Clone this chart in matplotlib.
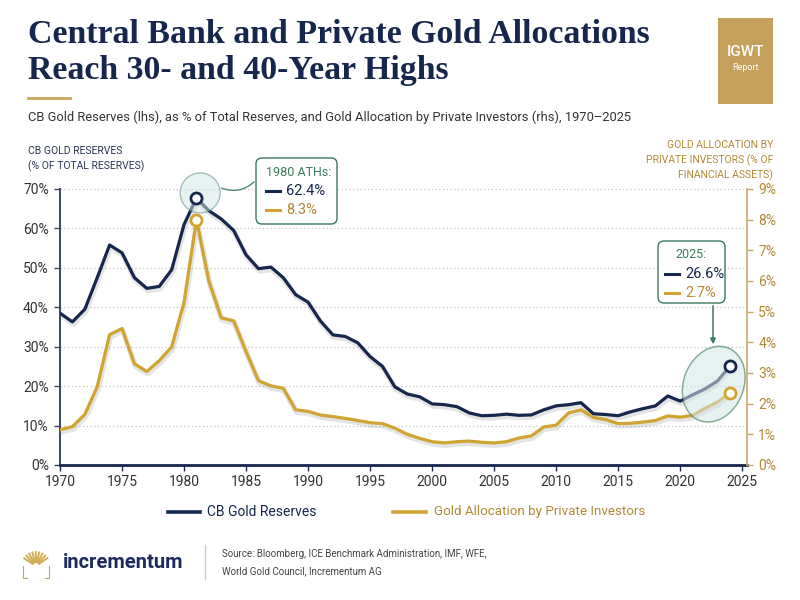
import math
import matplotlib
matplotlib.use('Agg')
import matplotlib.pyplot as plt
import matplotlib.patheffects as pe
from matplotlib import font_manager
from matplotlib.lines import Line2D
from matplotlib.patches import Circle, Ellipse, FancyBboxPatch, FancyArrowPatch, Rectangle
from matplotlib.transforms import Affine2D, ScaledTranslation

# ---- data ----
years = list(range(1970, 2025))
cb_reserves = [38.5, 36.3, 39.5, 47.5, 55.8, 53.8, 47.5, 44.8, 45.3, 49.5,
               61.0, 67.7, 64.5, 62.4, 59.5, 53.3, 49.8, 50.2, 47.5, 43.2,
               41.3, 36.5, 33.0, 32.6, 31.0, 27.5, 25.0, 19.8, 18.0, 17.3,
               15.5, 15.3, 14.8, 13.2, 12.5, 12.6, 12.9, 12.6, 12.7, 14.0,
               15.0, 15.3, 15.8, 13.0, 12.8, 12.5, 13.5, 14.3, 15.0, 17.5,
               16.2, 17.8, 19.3, 21.3, 25.0]
private_alloc = [1.15, 1.25, 1.65, 2.55, 4.25, 4.45, 3.3, 3.05, 3.4, 3.85,
                 5.3, 8.0, 6.0, 4.8, 4.7, 3.7, 2.75, 2.58, 2.5, 1.8,
                 1.75, 1.63, 1.58, 1.52, 1.45, 1.38, 1.35, 1.2, 1.0, 0.87,
                 0.76, 0.72, 0.76, 0.78, 0.74, 0.72, 0.76, 0.88, 0.95, 1.24,
                 1.3, 1.7, 1.8, 1.55, 1.48, 1.35, 1.36, 1.4, 1.45, 1.6,
                 1.56, 1.62, 1.85, 2.05, 2.35]
x_ticks = [1970, 1975, 1980, 1985, 1990, 1995, 2000, 2005, 2010, 2015, 2020, 2025]
left_ticks = [0, 10, 20, 30, 40, 50, 60, 70]
right_ticks = [0, 1, 2, 3, 4, 5, 6, 7, 8, 9]
peak_year = 1981
ath_labels = ['62.4%', '8.3%']
latest_labels = ['26.6%', '2.7%']

NAVY = '#17264d'
GOLD = '#d1a330'
GOLD_TXT = '#b08a35'
GREEN = '#3b7a5c'
GREY = '#333333'

names = {f.name for f in font_manager.fontManager.ttflist}
NARROW = 'Liberation Sans Narrow' if 'Liberation Sans Narrow' in names else 'Roboto'
SANS = 'Roboto' if 'Roboto' in names else 'DejaVu Sans'
SERIF = 'Liberation Serif'
plt.rcParams['font.family'] = SANS

fig = plt.figure(figsize=(8, 6), dpi=100)
fig.patch.set_facecolor('white')
# pixel coords, origin top-left
pxt = Affine2D().scale(1 / 800, -1 / 600).translate(0, 1) + fig.transFigure

ax = fig.add_axes([0.075, 0.225, 0.859, 0.46])
ax2 = ax.twinx()
ax.set_xlim(1970, 2025.4)
ax.set_ylim(0, 70)
ax2.set_ylim(0, 9)

shadow = [pe.SimpleLineShadow(offset=(0.6, -1.6), shadow_color='#6a6a6a', alpha=0.18, linewidth=4),
          pe.Normal()]
ax.plot(years, cb_reserves, color=NAVY, lw=2.3, solid_capstyle='round',
        solid_joinstyle='round', path_effects=shadow, zorder=3)
ax2.plot(years, private_alloc, color=GOLD, lw=2.3, solid_capstyle='round',
         solid_joinstyle='round', path_effects=shadow, zorder=3)

# grid + spines
ax.set_yticks(left_ticks)
ax.set_yticklabels([f'{v}%' for v in left_ticks])
ax.set_xticks(x_ticks)
ax2.set_yticks(right_ticks)
ax2.set_yticklabels([f'{v}%' for v in right_ticks])
ax.grid(axis='y', linestyle=(0, (1, 2)), color='#c4c4c4', lw=0.9)
ax.set_axisbelow(True)
for a in (ax, ax2):
    a.spines['top'].set_visible(False)
ax.spines['right'].set_visible(False)
ax2.spines['left'].set_visible(False)
ax2.spines['bottom'].set_visible(False)
ax.spines['left'].set_color('#3a4560')
ax.spines['left'].set_linewidth(1.4)
ax.spines['bottom'].set_color(NAVY)
ax.spines['bottom'].set_linewidth(2)
ax2.spines['right'].set_color('#c9a86c')
ax2.spines['right'].set_linewidth(1.2)
ax.tick_params(axis='y', length=4, width=1, color='#3a4560', labelsize=10, labelcolor=GREY, pad=4)
ax.tick_params(axis='x', length=4, width=1, color=NAVY, labelsize=10, labelcolor=GREY, pad=3)
ax2.tick_params(axis='y', length=4, width=1, color='#c9a86c', labelsize=10, labelcolor=GOLD_TXT, pad=4)

# highlight shapes anchored in data coords, sized in inches
circ = Circle((0, 0), 0.2, transform=fig.dpi_scale_trans + ScaledTranslation(1981.3, 69, ax.transData),
              facecolor='#d3e6e6', edgecolor='#4f8a7a', lw=1, alpha=0.5, zorder=5, clip_on=False)
ax2.add_patch(circ)
ell = Ellipse((0, 0), 0.6, 0.78, angle=-22,
              transform=fig.dpi_scale_trans + ScaledTranslation(2022.7, 20.5, ax.transData),
              facecolor='#d3e6e6', edgecolor='#2f6f50', lw=1.1, alpha=0.55, zorder=5, clip_on=False)
ax2.add_patch(ell)

# markers (all on the top axes so they sit above the highlights)
i_peak = years.index(peak_year)
mk = dict(marker='o', ms=8, mfc='white', mew=2, zorder=7, clip_on=False)
ax2.plot(years[i_peak], cb_reserves[i_peak], mec=NAVY, transform=ax.transData, **mk)
ax2.plot(years[i_peak], private_alloc[i_peak], mec=GOLD, **mk)
ax2.plot(years[-1], cb_reserves[-1], mec=NAVY, transform=ax.transData, **mk)
ax2.plot(years[-1], private_alloc[-1], mec=GOLD, **mk)

# annotation boxes
def note_box(x0, y0, w, h, title, vals, title_center=False):
    fig.add_artist(FancyBboxPatch((x0, y0), w, h, boxstyle='round,pad=0,rounding_size=6',
                                  transform=pxt, facecolor='white', edgecolor=GREEN, lw=1, zorder=10))
    if title_center:
        fig.text(x0 + w / 2, y0 + 13, title, transform=pxt, ha='center', va='center',
                 fontsize=9, color=GREEN, zorder=11)
    else:
        fig.text(x0 + 10, y0 + 15, title, transform=pxt, ha='left', va='center',
                 fontsize=9, color=GREEN, zorder=11)
    lx = x0 + 7 if title_center else x0 + 10
    for k, (txt, col) in enumerate(zip(vals, [NAVY, GOLD_TXT])):
        yy = y0 + 33 + 19 * k
        fig.add_artist(Line2D([lx, lx + 14], [yy, yy], transform=pxt, color=NAVY if k == 0 else GOLD,
                              lw=2.2, zorder=11))
        fig.text(lx + 20, yy, txt, transform=pxt, ha='left', va='center', fontsize=10.5,
                 color=col, zorder=11)

note_box(256, 158, 81, 66, '1980 ATHs:', ath_labels)
note_box(658, 241, 67, 62, '2025:', latest_labels, title_center=True)
fig.add_artist(FancyArrowPatch((219, 187), (256, 180), transform=pxt, arrowstyle='-',
                               connectionstyle='arc3,rad=0.35', color='#4f8a7a', lw=1, zorder=9))
fig.add_artist(FancyArrowPatch((713, 303), (713, 347), transform=pxt, arrowstyle='-|>',
                               mutation_scale=8, color=GREEN, lw=1.1, zorder=9))

# titles
fig.text(28, 43, 'Central Bank and Private Gold Allocations', transform=pxt, va='baseline',
         fontsize=24.4, fontweight='bold', family=SERIF, color=NAVY)
fig.text(28, 79, 'Reach 30- and 40-Year Highs', transform=pxt, va='baseline',
         fontsize=24.4, fontweight='bold', family=SERIF, color=NAVY)
fig.add_artist(Line2D([28, 70], [98, 98], transform=pxt, color='#c9a55a', lw=2))
fig.text(28, 117, 'CB Gold Reserves (lhs), as % of Total Reserves, and Gold Allocation by '
         'Private Investors (rhs), 1970–2025', transform=pxt, va='center',
         fontsize=9.3, family=NARROW, color=GREY)

# IGWT badge
fig.add_artist(Rectangle((718, 18), 55, 86, transform=pxt, facecolor='#c4a05a', edgecolor='none'))
fig.text(745.5, 52, 'IGWT', transform=pxt, ha='center', va='center', fontsize=11,
         color='white', family=NARROW, fontweight='medium')
fig.text(745.5, 68, 'Report', transform=pxt, ha='center', va='center', fontsize=6.5,
         color='white', family=NARROW)

# axis titles
fig.text(28, 146, 'CB GOLD RESERVES\n(% OF TOTAL RESERVES)', transform=pxt, ha='left', va='top',
         fontsize=7.5, color='#2a3550', linespacing=1.45)
fig.text(773, 140, 'GOLD ALLOCATION BY\nPRIVATE INVESTORS (% OF\nFINANCIAL ASSETS)', transform=pxt,
         ha='right', va='top', fontsize=7.5, color=GOLD_TXT, linespacing=1.45)

# legend
fig.add_artist(Line2D([168, 200], [512, 512], transform=pxt, color=NAVY, lw=2.6))
fig.text(207, 512, 'CB Gold Reserves', transform=pxt, va='center', fontsize=10,
         family=NARROW, color=NAVY)
fig.add_artist(Line2D([393, 426], [512, 512], transform=pxt, color=GOLD, lw=2.6))
fig.text(434, 512, 'Gold Allocation by Private Investors', transform=pxt, va='center',
         fontsize=9.6, family=NARROW, color=GOLD_TXT)

# footer: logo, name, source
cx, cy = 36, 566
for ang in range(35, 150, 14):
    r0, r1 = 4, (14 if ang % 28 else 11)
    c, s = math.cos(math.radians(ang)), math.sin(math.radians(ang))
    fig.add_artist(Line2D([cx + r0 * c, cx + r1 * c], [cy - r0 * s, cy - r1 * s],
                          transform=pxt, color='#d4ad55', lw=1.4))
fig.add_artist(Line2D([23, 23, 27], [566, 578, 578], transform=pxt, color='#c9a55a', lw=0.8))
fig.add_artist(Line2D([45, 49, 49], [578, 578, 566], transform=pxt, color='#c9a55a', lw=0.8))
fig.text(63, 562, 'incrementum', transform=pxt, va='center', fontsize=14.5, fontweight='bold',
         color='#1c2a5c')
fig.add_artist(Line2D([205, 205], [545, 579], transform=pxt, color='#cccccc', lw=1))
fig.text(222, 554, 'Source: Bloomberg, ICE Benchmark Administration, IMF, WFE,', transform=pxt,
         va='center', fontsize=7, family=NARROW, color='#444444')
fig.text(222, 571, 'World Gold Council, Incrementum AG', transform=pxt,
         va='center', fontsize=7, family=NARROW, color='#444444')

fig.savefig('out.png', dpi=100)
